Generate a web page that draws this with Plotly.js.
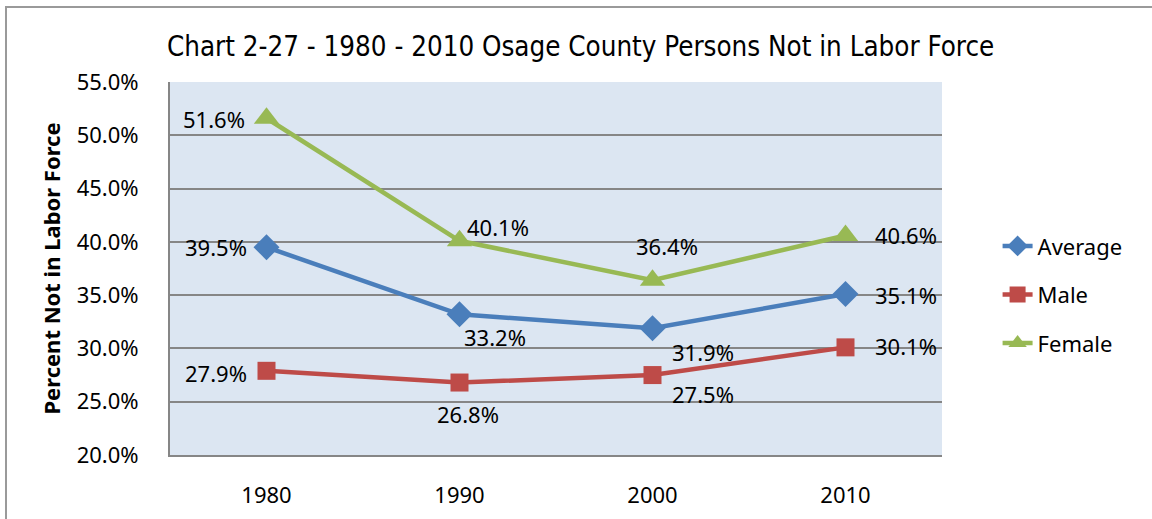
<!DOCTYPE html>
<html>
<head>
<meta charset="utf-8">
<script src="https://cdn.plot.ly/plotly-3.0.1.min.js"></script>
<style>
  html, body { margin: 0; padding: 0; background: #fff; }
  #wrap { position: relative; width: 1152px; height: 519px; overflow: hidden; }
  #frame { position: absolute; left: 5px; top: 6px; width: 1200px; height: 600px;
           border-left: 2px solid #9a9a9a; border-top: 2px solid #9a9a9a; pointer-events: none; }
  #chart { position: absolute; left: 0; top: 0; width: 1152px; height: 519px; }
</style>
</head>
<body>
<div id="wrap">
  <div id="chart"></div>
  <div id="frame"></div>
</div>
<script>
const years = ["1980", "1990", "2000", "2010"];
const averageVals = [39.5, 33.2, 31.9, 35.1];
const maleVals = [27.9, 26.8, 27.5, 30.1];
const femaleVals = [51.6, 40.1, 36.4, 40.6];

const labelFont = { family: "Noto Sans, sans-serif", size: 22, color: "#000" };

// label offsets (pixels) relative to each point, per series
const labelOffsets = {
  Average: [[-51, 0], [35, -23], [50, -24], [60, -1]],
  Male:    [[-51, -2], [8, -31], [50, -19], [60, 1]],
  Female:  [[-53, -1], [38, 14], [14, 34], [60, 0]]
};

function series(name, vals, color, symbol, size) {
  return {
    type: "scatter", mode: "lines+markers", name: name,
    x: years, y: vals,
    line: { color: color, width: 4.5 },
    marker: { color: color, symbol: symbol, size: size },
    legendgroup: name, cliponaxis: false, hoverinfo: "skip"
  };
}

const seriesList = [
  ["Average", averageVals, "#4A7EBB", "diamond", 20],
  ["Male", maleVals, "#BE4B48", "square", 18],
  ["Female", femaleVals, "#98B954", "triangle-up", 22]
];
const data = seriesList.map(s => series(...s));

const annotations = [];
seriesList.forEach(([name, vals]) => {
  vals.forEach((v, i) => {
    annotations.push({
      x: i, y: v, xref: "x", yref: "y",
      text: v.toFixed(1) + "%", showarrow: false,
      xshift: labelOffsets[name][i][0], yshift: labelOffsets[name][i][1],
      xanchor: "center", yanchor: "middle", font: labelFont
    });
  });
});

const layout = {
  width: 1152, height: 519,
  margin: { l: 170, r: 210, t: 82, b: 64 },
  paper_bgcolor: "#ffffff", plot_bgcolor: "#DCE6F2",
  showlegend: true,
  annotations: annotations,
  title: {
    text: "Chart 2-27 - 1980 - 2010 Osage County Persons Not in Labor Force",
    font: { family: "Liberation Sans Narrow, DejaVu Sans Condensed", size: 27.5, color: "#000" },
    x: 0.504, xanchor: "center", y: 0.91, yanchor: "middle"
  },
  xaxis: {
    type: "category", range: [-0.5, 3.5],
    showgrid: false, zeroline: false,
    showline: true, linecolor: "#868686", linewidth: 2,
    ticks: "", tickfont: labelFont, ticklabelstandoff: 20
  },
  yaxis: {
    range: [20, 55], dtick: 5, tick0: 20,
    tickformat: ".1f", ticksuffix: "%",
    showgrid: true, gridcolor: "#868686", gridwidth: 2,
    zeroline: false, showline: true, linecolor: "#868686", linewidth: 2,
    ticks: "", tickfont: labelFont, ticklabelstandoff: 25,
    title: { text: "<b>Percent Not in Labor Force</b>",
             font: { family: "Noto Sans, sans-serif", size: 22, color: "#000" }, standoff: 10 }
  },
  legend: {
    x: 1.072, xanchor: "left", y: 0.43, yanchor: "middle",
    font: labelFont, tracegroupgap: 17, bgcolor: "rgba(0,0,0,0)"
  }
};

Plotly.newPlot("chart", data, layout, { staticPlot: true, displayModeBar: false });
</script>
</body>
</html>
